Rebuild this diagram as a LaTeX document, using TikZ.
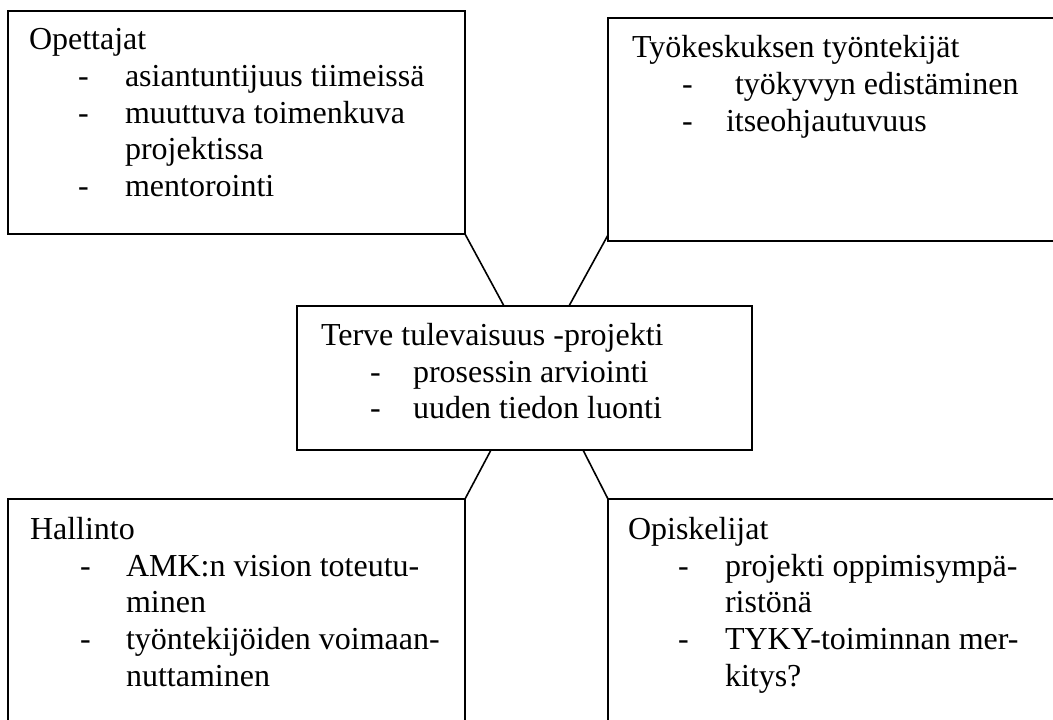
\documentclass[tikz,border=0pt]{standalone}
\usepackage{fontspec}
\setmainfont{Liberation Serif}
\usetikzlibrary{calc}
\newcommand{\boxfont}{\fontsize{24}{27.5}\selectfont}
\tikzset{
  x=0.75pt, y=-0.75pt,
  framebox/.style={draw=black, line width=1.5pt, rectangle, inner sep=0pt, outer sep=0pt, anchor=north west},
  txt/.style={anchor=base west, inner sep=0pt, outer sep=0pt, font=\boxfont},
  link/.style={draw=black, line width=1.2pt}
}
\begin{document}
\begin{tikzpicture}
\useasboundingbox (0,0) rectangle (1053,720);
\fill[white] (0,0) rectangle (1053,720);
\clip (0,0) rectangle (1053,720);

% boxes
\node[framebox, minimum width=342.75pt, minimum height=167.25pt] (tl) at (8,11) {};
\node[framebox, minimum width=346.5pt, minimum height=167.25pt] (tr) at (608,18) {};
\node[framebox, minimum width=341.25pt, minimum height=108pt] (c) at (297,306) {};
\node[framebox, minimum width=342.75pt, minimum height=180.75pt] (bl) at (8,499) {};
\node[framebox, minimum width=346.5pt, minimum height=180.75pt] (br) at (608,499) {};

% connectors
\draw[link] (tl.south east) -- ($(c.north west)+(207,0)$);
\draw[link] ($(tr.south west)+(0,-6)$) -- ($(c.north west)+(272,0)$);
\draw[link] ($(c.south west)+(194,0)$) -- (bl.north east);
\draw[link] ($(c.south west)+(286,0)$) -- (br.north west);

% top-left text
\node[txt] (tlt) at (29,50) {Opettajat};
\node[txt] (tld1) at (78,87) {-};
\node[txt] (tli1) at (125,87) {asiantuntijuus tiimeissä};
\node[txt] (tld2) at (78,124) {-};
\node[txt] (tli2) at (125,124) {muuttuva toimenkuva};
\node[txt] (tli2b) at (125,160) {projektissa};
\node[txt] (tld3) at (78,197) {-};
\node[txt] (tli3) at (125,197) {mentorointi};

% top-right text
\node[txt] (trt) at (632,58) {Työkeskuksen työntekijät};
\node[txt] (trd1) at (682,95) {-};
\node[txt] (tri1) at (735,95) {työkyvyn edistäminen};
\node[txt] (trd2) at (682,132) {-};
\node[txt] (tri2) at (726,132) {itseohjautuvuus};

% center text
\node[txt] (ct) at (321,345) {Terve tulevaisuus -projekti};
\node[txt] (cd1) at (370,382) {-};
\node[txt] (ci1) at (413,382) {prosessin arviointi};
\node[txt] (cd2) at (370,418) {-};
\node[txt] (ci2) at (413,418) {uuden tiedon luonti};

% bottom-left text
\node[txt] (blt) at (30,539) {Hallinto};
\node[txt] (bld1) at (80,576) {-};
\node[txt] (bli1) at (126,576) {AMK:n vision toteutu-};
\node[txt] (bli1b) at (126,612) {minen};
\node[txt] (bld2) at (80,649) {-};
\node[txt] (bli2) at (126,649) {työntekijöiden voimaan-};
\node[txt] (bli2b) at (126,686) {nuttaminen};

% bottom-right text
\node[txt] (brt) at (628,539) {Opiskelijat};
\node[txt] (brd1) at (678,576) {-};
\node[txt] (bri1) at (725,576) {projekti oppimisympä-};
\node[txt] (bri1b) at (725,612) {ristönä};
\node[txt] (brd2) at (678,649) {-};
\node[txt] (bri2) at (725,649) {TYKY-toiminnan mer-};
\node[txt] (bri2b) at (725,686) {kitys?};
\end{tikzpicture}
\end{document}
